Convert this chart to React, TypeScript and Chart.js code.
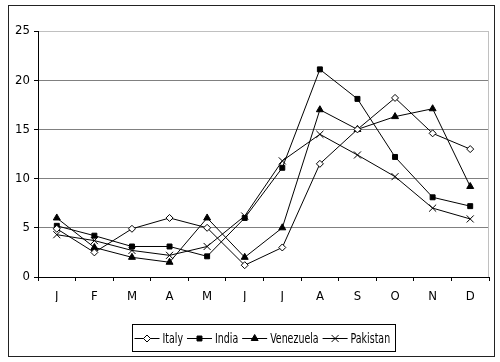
import React, { useEffect, useRef } from 'react';
import { Chart, registerables } from 'chart.js';
import { drawPoint } from 'chart.js/helpers';

Chart.register(...registerables);

const months = ['J', 'F', 'M', 'A', 'M', 'J', 'J', 'A', 'S', 'O', 'N', 'D'];
const italy = [4.9, 2.5, 4.9, 6.0, 5.0, 1.2, 3.0, 11.5, 15.0, 18.2, 14.6, 13.0];
const india = [5.2, 4.2, 3.1, 3.1, 2.1, 6.0, 11.1, 21.1, 18.1, 12.2, 8.1, 7.2];
const venezuela = [6.0, 3.0, 2.0, 1.5, 6.0, 2.0, 5.0, 17.0, 15.0, 16.3, 17.1, 9.2];
const pakistan = [4.3, 3.7, 2.7, 2.2, 3.1, 6.2, 11.8, 14.5, 12.4, 10.2, 7.0, 5.9];
const yTicks = [0, 5, 10, 15, 20, 25];

const FONT = '"Liberation Sans Narrow", "Arial Narrow", "DejaVu Sans Condensed", "Liberation Sans", sans-serif';
const SQUEEZE = 0.75;

const framePlugin = {
  id: 'frame',
  beforeDraw(chart: any) {
    const ctx = chart.ctx;
    ctx.save();
    ctx.fillStyle = '#ffffff';
    ctx.fillRect(0, 0, chart.width, chart.height);
    ctx.strokeStyle = '#222222';
    ctx.lineWidth = 1;
    ctx.strokeRect(8.5, 5.5, 486, 351);
    ctx.restore();
  },
  beforeDatasetsDraw(chart: any) {
    const ctx = chart.ctx;
    const ca = chart.chartArea;
    ctx.save();
    ctx.strokeStyle = '#c0c0c0';
    ctx.lineWidth = 1;
    ctx.beginPath();
    ctx.moveTo(Math.round(ca.right) - 0.5, ca.top);
    ctx.lineTo(Math.round(ca.right) - 0.5, ca.bottom);
    ctx.stroke();
    ctx.restore();
  },
  afterDraw(chart: any) {
    const ctx = chart.ctx;
    const ca = chart.chartArea;
    ctx.save();
    ctx.font = `14px ${FONT}`;
    const lineLen = 25;
    const gapLine = 3;
    const gapText = 4;
    const padL = 2;
    const padR = 5;
    const items = chart.data.datasets.map((ds: any) => ({ ds, w: ctx.measureText(ds.label).width * SQUEEZE }));
    let total = padL + padR;
    items.forEach((it: any, i: number) => {
      total += lineLen + gapLine + it.w + (i < items.length - 1 ? gapText : 0);
    });
    const left = Math.round((ca.left + ca.right) / 2 - total / 2) + 0.5;
    const top = 324.5;
    const h = 27;
    ctx.strokeStyle = '#000';
    ctx.lineWidth = 1;
    ctx.strokeRect(left, top, Math.round(total), h);
    const cy = top + h / 2;
    let x = left + padL;
    items.forEach((it: any) => {
      const ds = it.ds;
      ctx.strokeStyle = '#000';
      ctx.lineWidth = 1;
      ctx.beginPath();
      ctx.moveTo(x, Math.round(cy) + 0.5);
      ctx.lineTo(x + lineLen, Math.round(cy) + 0.5);
      ctx.stroke();
      ctx.fillStyle = ds.pointBackgroundColor;
      ctx.strokeStyle = '#000';
      drawPoint(ctx, { pointStyle: ds.pointStyle, radius: ds.pointRadius, rotation: 0, borderWidth: 1 }, x + lineLen / 2, Math.round(cy) + 0.5);
      ctx.fillStyle = '#000';
      ctx.textBaseline = 'middle';
      ctx.textAlign = 'left';
      ctx.save();
      ctx.translate(x + lineLen + gapLine, cy + 1);
      ctx.scale(SQUEEZE, 1);
      ctx.fillText(ds.label, 0, 0);
      ctx.restore();
      x += lineLen + gapLine + it.w + gapText;
    });
    ctx.restore();
  },
};

function mk(label: string, data: number[], style: string, bg: string, r: number) {
  return {
    label,
    data,
    borderColor: '#000',
    borderWidth: 1,
    pointStyle: style,
    pointBackgroundColor: bg,
    pointBorderColor: '#000',
    pointBorderWidth: 1,
    pointRadius: r,
    tension: 0,
    fill: false,
  };
}

export default function App() {
  const ref = useRef<HTMLCanvasElement | null>(null);
  useEffect(() => {
    if (!ref.current) return;
    const chart = new Chart(ref.current, {
      type: 'line',
      data: {
        labels: months,
        datasets: [
          mk('Italy', italy, 'rectRot', '#ffffff', 3.5),
          mk('India', india, 'rect', '#000000', 3.5),
          mk('Venezuela', venezuela, 'triangle', '#000000', 4),
          mk('Pakistan', pakistan, 'crossRot', '#000000', 5),
        ],
      },
      plugins: [framePlugin],
      options: {
        responsive: false,
        animation: false,
        devicePixelRatio: 1,
        layout: { padding: { left: 0, top: 31, right: 11, bottom: 60 } },
        plugins: {
          legend: { display: false },
          tooltip: { enabled: false },
          title: { display: false },
        },
        scales: {
          x: {
            type: 'category',
            offset: true,
            afterFit: (s: any) => { s.height = 25; },
            grid: {
              offset: true,
              drawOnChartArea: false,
              drawTicks: true,
              tickLength: 4,
              color: '#000',
              tickColor: '#000',
            },
            border: { display: true, color: '#000', width: 1 },
            ticks: {
              color: '#000',
              padding: 8,
              maxRotation: 0,
              autoSkip: false,
              font: { family: FONT, size: 13 },
            },
          },
          y: {
            min: 0,
            max: 25,
            afterFit: (s: any) => { s.width = 38; },
            afterBuildTicks: (s: any) => { s.ticks = yTicks.map((v) => ({ value: v })); },
            grid: {
              color: (c: any) => (c.tick && c.tick.value === 25 ? '#c0c0c0' : '#808080'),
              tickColor: '#000',
              tickLength: 4,
              lineWidth: 1,
            },
            border: { display: true, color: '#000', width: 1 },
            ticks: {
              color: '#000',
              padding: 4,
              font: { family: FONT, size: 13 },
            },
          },
        },
      },
    });
    return () => chart.destroy();
  }, []);
  return (
    <div style={{ position: 'absolute', left: 0, top: 0, width: 500, height: 362 }}>
      <canvas ref={ref} width={500} height={362} />
    </div>
  );
}
